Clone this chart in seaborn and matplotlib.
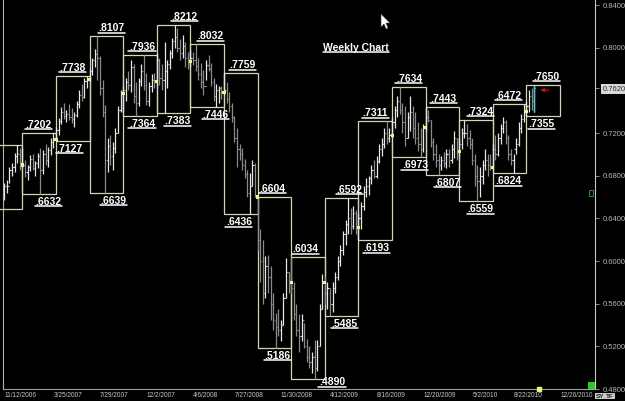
import numpy as np
import pandas as pd
import matplotlib
matplotlib.use("Agg")
import matplotlib.pyplot as plt
from matplotlib.patches import Rectangle, Polygon
from matplotlib.lines import Line2D
from matplotlib.transforms import IdentityTransform
import seaborn as sns

# ------------------------------------------------------------
# weekly bars (one per week, first week = 11/12/2006)
# ------------------------------------------------------------
first_week = "2006-11-12"
first_open = 0.6680

highs = [
    .6730, .6760, .6880, .6920, .7010, .7088, .7060,
    .7060, .6950, .6900, .6990, .7000, .6940, .7010, .7060, .7040, .7100, .7070, .7150, .7202,
    .7260, .7340, .7440, .7480, .7420, .7470, .7430, .7400, .7500, .7600, .7660, .7720, .7738,
    .7800, .7900, .7990, .8107, .7920, .7700, .7460, .7150, .7180, .7120, .7250, .7450, .7600,
    .7640, .7720, .7780, .7880, .7850, .7680, .7720, .7850, .7936, .7760, .7680, .7750, .7760,
    .7950, .7900, .7850, .8050, .7880, .7980, .8090, .8212, .8180, .8080, .8120, .8050, .7960,
    .7980, .7960, .8032, .7900, .7860, .7790, .7880, .7930, .7860, .7720, .7660, .7640, .7640,
    .7759, .7680, .7580, .7480, .7360, .7250, .7100, .7060, .6960, .6850, .6825, .6950, .6920,
    .6604, .6300, .6200, .6050, .6060, .5950, .5700, .5512, .5550, .5450, .5700, .6030, .5900,
    .6034, .5800, .5600, .5500, .5500, .5420, .5270, .5200, .5150, .5260, .5260, .5600, .5880,
    .5850, .5800, .5750, .5800, .5900, .6050, .6150, .6280, .6380, .6592, .6500, .6520, .6480,
    .6450, .6550, .6700, .6780, .6800, .6900, .6950, .6980, .7100, .7150, .7250, .7311, .7250,
    .7350, .7450, .7550, .7634, .7480, .7450, .7400, .7550, .7450, .7400, .7300, .7250, .7280,
    .7443, .7420, .7320, .7150, .7100, .7000, .6980, .7020, .7050, .7050, .7100, .7220, .7150,
    .7150, .7250, .7324, .7280, .7230, .7150, .7000, .6900, .6880, .6950, .7050, .7000, .7000,
    .7100, .7180, .7200, .7280, .7350, .7320, .7180, .7050, .7000, .7150, .7300, .7380, .7472,
    .7500, .7600, .7620, .7650,
]
lows = [
    .6572, .6640, .6730, .6800, .6830, .6920, .6850,
    .6880, .6790, .6760, .6840, .6850, .6800, .6870, .6632, .6820, .6900, .6880, .6990, .7060,
    .7127, .7180, .7280, .7330, .7300, .7320, .7290, .7260, .7350, .7430, .7500, .7530, .7620,
    .7680, .7740, .7820, .7700, .7560, .7350, .6639, .6830, .6900, .6850, .7010, .7200, .7400,
    .7400, .7500, .7600, .7580, .7480, .7364, .7450, .7640, .7600, .7460, .7450, .7580, .7620,
    .7640, .7650, .7600, .7383, .7620, .7800, .7900, .8000, .7960, .7880, .7900, .7820, .7800,
    .7820, .7840, .7780, .7700, .7620, .7560, .7700, .7780, .7640, .7500, .7446, .7480, .7520,
    .7560, .7480, .7400, .7300, .7120, .6880, .6950, .6850, .6780, .6600, .6436, .6700, .6600,
    .6100, .5800, .5600, .5650, .5700, .5450, .5350, .5186, .5300, .5250, .5400, .5650, .5700,
    .5700, .5450, .5300, .5150, .5250, .5180, .5050, .5000, .4950, .4890, .4970, .5200, .5550,
    .5600, .5550, .5485, .5520, .5700, .5820, .5950, .6060, .6150, .6250, .6250, .6300, .6250,
    .6193, .6300, .6480, .6600, .6620, .6720, .6780, .6780, .6920, .6980, .7060, .7100, .7120,
    .7150, .7250, .7350, .7380, .7200, .7080, .7150, .7220, .7150, .7100, .7030, .6973, .7020,
    .7220, .7300, .7070, .6950, .6880, .6807, .6850, .6880, .6870, .6880, .6920, .6970, .6950,
    .6980, .7050, .7150, .7080, .7050, .6900, .6700, .6559, .6600, .6720, .6850, .6800, .6850,
    .6850, .6950, .6980, .7100, .7200, .7100, .6950, .6900, .6824, .7000, .7080, .7200, .7300,
    .7355, .7400, .7420, .7400,
]
closes = [
    .6700, .6700, .6850, .6880, .6980, .7000, .6900,
    .6900, .6830, .6880, .6960, .6870, .6920, .6980, .6850, .7000, .6950, .7040, .7120, .7140,
    .7230, .7310, .7400, .7360, .7380, .7350, .7330, .7370, .7470, .7560, .7540, .7690, .7700,
    .7780, .7880, .7940, .7900, .7620, .7400, .6950, .7080, .6980, .7060, .7200, .7420, .7570,
    .7600, .7680, .7650, .7820, .7550, .7480, .7690, .7780, .7650, .7500, .7640, .7700, .7680,
    .7880, .7720, .7700, .7780, .7850, .7950, .8060, .8100, .8000, .7950, .8020, .7900, .7870,
    .7900, .7880, .7830, .7750, .7680, .7640, .7840, .7800, .7680, .7550, .7600, .7620, .7580,
    .7600, .7520, .7450, .7350, .7150, .7050, .7000, .6900, .6820, .6640, .6700, .6900, .6600,
    .6200, .6000, .5700, .5950, .5850, .5600, .5450, .5380, .5350, .5400, .5650, .5900, .5800,
    .5750, .5500, .5350, .5300, .5450, .5200, .5100, .5050, .5100, .5000, .5200, .5550, .5800,
    .5700, .5750, .5600, .5750, .5850, .6000, .6100, .6250, .6350, .6400, .6330, .6450, .6310,
    .6400, .6520, .6650, .6700, .6780, .6850, .6800, .6940, .7050, .7100, .7200, .7150, .7180,
    .7300, .7420, .7500, .7420, .7300, .7150, .7350, .7400, .7250, .7150, .7100, .7050, .7250,
    .7350, .7320, .7120, .7000, .6950, .6900, .6950, .6920, .7000, .6950, .7050, .7150, .7030,
    .7100, .7200, .7200, .7150, .7100, .6950, .6800, .6750, .6800, .6900, .6950, .6900, .6880,
    .7050, .7000, .7150, .7250, .7300, .7150, .7000, .6950, .7050, .7100, .7250, .7330, .7400,
    .7450, .7550, .7500, .7620,
]

# ------------------------------------------------------------
# quarterly range boxes
# ------------------------------------------------------------
quarter_starts = ["2006-10-01", "2006-12-31", "2007-04-01", "2007-07-01", "2007-09-30",
                  "2007-12-30", "2008-03-30", "2008-06-29", "2008-09-28", "2008-12-28",
                  "2009-03-29", "2009-06-28", "2009-09-27", "2009-12-27", "2010-03-28",
                  "2010-06-27", "2010-09-26"]
quarter_highs = [.7088, .7202, .7738, .8107, .7936, .8212, .8032, .7759, .6604,
                 .6034, .6592, .7311, .7634, .7443, .7324, .7472, .7650]
quarter_lows = [.6487, .6632, .7127, .6639, .7364, .7383, .7446, .6436, .5186,
                .4890, .5485, .6193, .6973, .6807, .6559, .6824, .7355]
high_labels = [None, ".7202", ".7738", ".8107", ".7936", ".8212", ".8032", ".7759", ".6604",
               ".6034", ".6592", ".7311", ".7634", ".7443", ".7324", ".6472", ".7650"]
low_labels = [None, ".6632", ".7127", ".6639", ".7364", ".7383", ".7446", ".6436", ".5186",
              ".4890", ".5485", ".6193", ".6973", ".6807", ".6559", ".6824", ".7355"]

date_ticks = ["11/12/2006", "3/25/2007", "7/29/2007", "12/2/2007", "4/6/2008", "7/27/2008",
              "11/30/2008", "4/12/2009", "8/16/2009", "12/20/2009", "5/2/2010", "8/22/2010",
              "12/26/2010"]
price_ticks = [0.48, 0.52, 0.56, 0.60, 0.64, 0.68, 0.72, 0.80, 0.84]
last_price = 0.7620

# label nudges in pixels (labels are not always centred in the box)
hi_dx = [0, -1, 0, 5, 2, 11, 3, 2, -2, -3, 8, 0, 0, 1, 4, -1, 3]
lo_dx = [0, 9, -3, 7, 2, 4, 8, -2, 3, 24, 3, 1, 6, 5, 4, -1, -2]
lo_dy = [-11] * 17
lo_dy[9] = -6


def week_no(d):
    return (pd.to_datetime(d, format="mixed") - pd.Timestamp(first_week)).days / 7


df = pd.DataFrame({"high": highs, "low": lows, "close": closes})
df["week"] = np.arange(len(df))
df["open"] = [first_open] + closes[:-1]
df["up"] = df["close"] >= df["open"]

# ------------------------------------------------------------
# style
# ------------------------------------------------------------
sns.set_theme(style="dark", rc={"axes.facecolor": "black", "figure.facecolor": "black",
                                "axes.grid": False})
plt.rcParams["font.family"] = ["Liberation Sans", "DejaVu Sans"]

W, H = 625, 401
fig = plt.figure(figsize=(W / 100, H / 100), dpi=100)
ax = fig.add_axes([3 / W, 12 / H, 592 / W, 389 / H])
ax.set_facecolor("black")

ax.set_xlim(-0.5, 228.5)
ax.set_ylim(0.48, 0.8447)

# bars
bar_col = np.where(df["up"], "#e6e6e6", "#8a8a8a")
ax.vlines(df["week"], df["low"], df["high"], colors=bar_col, lw=0.9)
ax.hlines(df["open"], df["week"] - 0.45, df["week"], colors=bar_col, lw=0.8)
ax.hlines(df["close"], df["week"], df["week"] + 0.45, colors=bar_col, lw=0.8)
# current bar in cyan
last = df.iloc[-1]
ax.vlines(last["week"], last["low"], last["high"], colors="#40c8d8", lw=1.0)

# quarter boxes
q_week = [week_no(d) for d in quarter_starts]
for i, (qs, qh, ql) in enumerate(zip(q_week, quarter_highs, quarter_lows)):
    ax.add_patch(Rectangle((qs, ql), 13, qh - ql, fill=False, ec="#d4d4b4", lw=0.9,
                           clip_on=(i != 0)))

# yellow quarter-open marks
opens_q = df[df["week"].isin([int(q) for q in q_week])]
sns.scatterplot(x=opens_q["week"], y=opens_q["open"], ax=ax, marker="s", s=5,
                color="#f4f08a", edgecolor="none", legend=False, zorder=4)

# labels
texts = []
for i, (qs, qh, ql) in enumerate(zip(q_week, quarter_highs, quarter_lows)):
    if high_labels[i] is None:
        continue
    mid = qs + 6.5
    t1 = ax.annotate(high_labels[i], xy=(mid, qh), xytext=(hi_dx[i], 5),
                     textcoords="offset pixels", ha="center", va="baseline",
                     color="white", fontsize=7.5, fontweight="bold")
    t2 = ax.annotate(low_labels[i], xy=(mid, ql), xytext=(lo_dx[i], lo_dy[i]),
                     textcoords="offset pixels", ha="center", va="baseline",
                     color="white", fontsize=7.5, fontweight="bold", annotation_clip=False)
    texts += [t1, t2]

wk = fig.text(356 / W, 1 - 51 / H, "Weekly Chart", ha="center", va="baseline",
              color="white", fontsize=7.5, fontweight="bold")
texts.append(wk)

# red arrow at the last bar
ax.annotate("", xy=(len(df) + 0.3, 0.7605), xytext=(len(df) + 5.5, 0.7600),
            arrowprops=dict(arrowstyle="-|>", color="#d01010", lw=0.9, mutation_scale=5))

# axes
ax.spines["top"].set_visible(False)
ax.spines["left"].set_color("#b4b4b4")
ax.spines["bottom"].set_color("#a0a0a0")
ax.spines["right"].set_color("#c8c8c8")
for s in ["left", "bottom", "right"]:
    ax.spines[s].set_linewidth(0.8)

ax.yaxis.tick_right()
yt = price_ticks + [last_price]
ax.set_yticks(yt)
ax.set_yticklabels([f"{p:.4f}" for p in yt])
ax.tick_params(axis="y", length=3, width=0.6, color="#a0a0a0", labelsize=5.5,
               labelcolor="#b8b8b8", pad=2.5)
cur = ax.get_yticklabels()[-1]
cur.set_color("#303030")
cur.set_bbox(dict(boxstyle="square,pad=0.2", fc="#d8d8d8", ec="none"))

ax.set_xticks([week_no(d) for d in date_ticks])
ax.set_xticklabels(date_ticks)
ax.tick_params(axis="x", length=2, width=0.6, color="#a0a0a0", labelsize=4.7,
               labelcolor="#c8c8c8", pad=0.5)
for lab in ax.get_xticklabels():
    lab.set_ha("left")

# yellow marker on the time axis
ax.plot([len(df) + 1], [0.48], marker="s", ms=2.5, color="#f0f080", clip_on=False, zorder=5)

# small widgets on the right edge
fig.patches.append(Rectangle((588, 12), 7, 7, transform=IdentityTransform(),
                             fc="#20d020", ec="none"))
fig.patches.append(Rectangle((589, 205), 4, 6, transform=IdentityTransform(),
                             fc="none", ec="#30b030", lw=0.6))
fig.text(600 / W, 5 / H, "SY", ha="center", va="center", fontsize=4.6, color="#202020",
         fontweight="bold", bbox=dict(boxstyle="square,pad=0.1", fc="#c8c8c8", ec="none"))
fig.text(610 / W, 5 / H, "TF", ha="center", va="center", fontsize=4.6, color="#202020",
         fontweight="bold", bbox=dict(boxstyle="square,pad=0.1", fc="#c8c8c8", ec="none"))

# mouse pointer
fig.patches.append(Polygon([(381, 387), (381, 374), (384, 377), (386, 372), (388, 373),
                            (386, 378), (390, 378)], closed=True,
                           transform=IdentityTransform(), fc="white", ec="#404040", lw=0.4))

# underline the labels
fig.canvas.draw()
for t in texts:
    bb = t.get_window_extent()
    y = bb.y0 + 0.6
    fig.add_artist(Line2D([bb.x0 - 0.5, bb.x1 + 0.5], [y, y], color="white", lw=1.1,
                          transform=IdentityTransform()))

plt.savefig("out.png", dpi=100, facecolor="black")
